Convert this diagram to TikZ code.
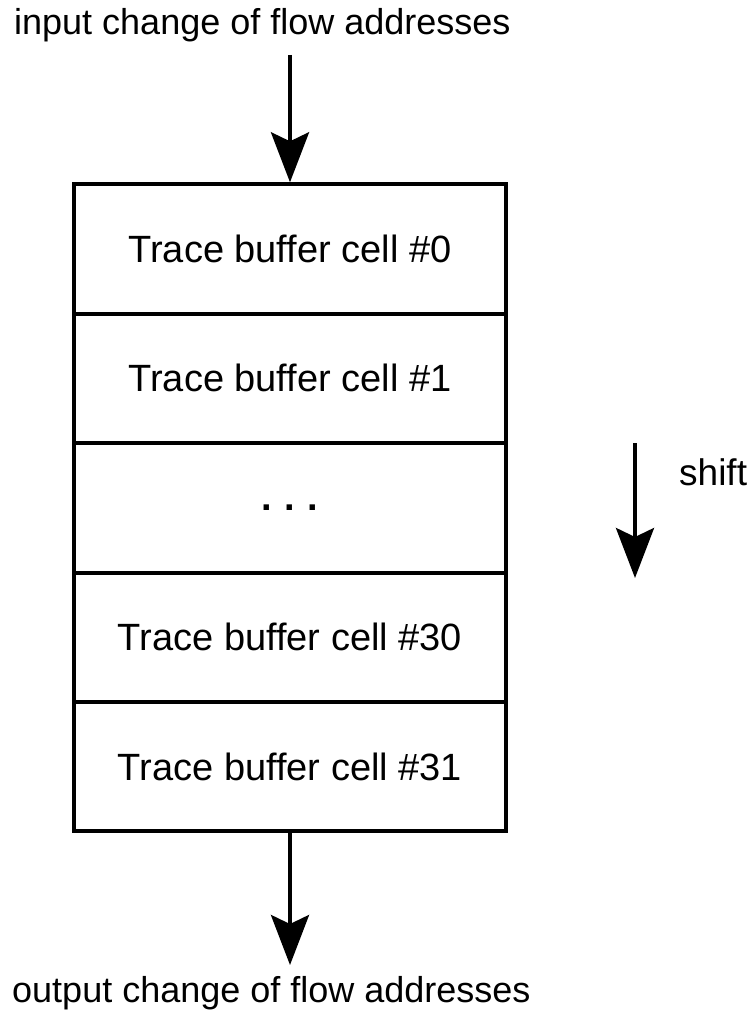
\documentclass[tikz,border=0pt]{standalone}
\usepackage{fontspec}
\setmainfont{Liberation Sans}
\usetikzlibrary{arrows.meta}
\begin{document}
\begin{tikzpicture}[x=1pt,y=-1pt,
  cellbox/.style={draw,line width=4pt,minimum width=432pt,minimum height=129.4pt,inner sep=0pt,
    font=\fontsize{38}{40}\selectfont},
  outer/.style={font=\fontsize{36}{40}\selectfont,inner sep=0pt},
  bigarrow/.style={line width=4pt,-{Stealth[length=50pt,width=38pt,inset=9pt]}}]
\useasboundingbox (0,0) rectangle (751,1011);
\node[cellbox] (c0) at (290,249) {Trace buffer cell \#0};
\node[cellbox] (c1) at (290,378.4) {Trace buffer cell \#1};
\node[cellbox] (cd) at (290,507.8) {\textbf{.\,\,.\,\,.}};
\node[cellbox] (c30) at (290,637.2) {Trace buffer cell \#30};
\node[cellbox] (c31) at (290,766.6) {Trace buffer cell \#31};
\node[outer,anchor=base west] (in) at (14,35) {input change of flow addresses};
\node[outer,anchor=base west] (out) at (12,1002) {output change of flow addresses};
\node[font=\fontsize{37}{40}\selectfont,inner sep=0pt,anchor=base west] (sh) at (679,485) {shift};
\coordinate (inS) at (290,55);
\coordinate (outE) at (290,965);
\coordinate (shS) at (635,443);
\coordinate (shE) at (635,578);
\draw[bigarrow] (inS) -- (c0.north);
\draw[bigarrow] (c31.south) -- (outE);
\draw[bigarrow] (shS) -- (shE);
\end{tikzpicture}
\end{document}
